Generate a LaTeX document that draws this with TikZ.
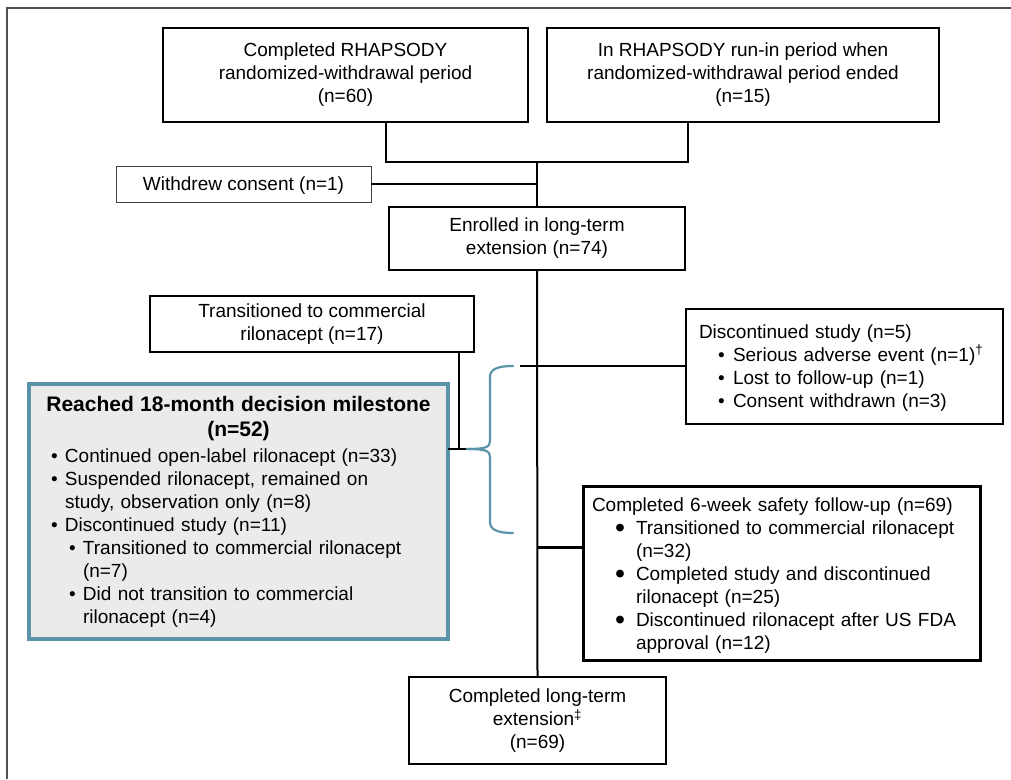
\documentclass[tikz,border=0pt]{standalone}
\usepackage{fontspec}
\setmainfont{Liberation Sans}
\definecolor{tealb}{HTML}{5B93A8}
\definecolor{fillg}{HTML}{EBEBEB}
\definecolor{framec}{HTML}{505050}
\newcommand{\bigdot}{\raisebox{-0.15em}{\scalebox{1.5}{•}}}
\begin{document}
\begin{tikzpicture}[x=1pt,y=-1pt,
  every node/.style={inner sep=0pt, outer sep=0pt},
  box/.style={draw=black, line width=1.5pt, align=center, font=\fontsize{19}{23}\selectfont,
              execute at begin node={\rule{0pt}{17.5pt}}},
  lbox/.style={draw=black, line width=1.5pt, align=left, font=\fontsize{19}{23}\selectfont},
  conn/.style={line width=2pt, draw=black},
  bracec/.style={line width=2.2pt, draw=tealb, line cap=round},
]
\useasboundingbox (0,0) rectangle (1011,779);
\draw[line width=2pt, draw=framec] (7,779) -- (7,8) -- (1011,8);

% boxes
\node[box, minimum width=365pt, minimum height=94pt, anchor=north west] (a) at (163,28)
  {Completed RHAPSODY\\randomized-withdrawal period\\(n=60)};
\node[box, minimum width=392pt, minimum height=94pt, anchor=north west] (b) at (547,28)
  {In RHAPSODY run-in period when\\randomized-withdrawal period ended\\(n=15)};
\node[box, draw=black!75, line width=1pt, minimum width=255pt, minimum height=36pt, anchor=north west] (w) at (116,166)
  {Withdrew consent (n=1)};
\node[box, minimum width=296pt, minimum height=63pt, anchor=north west] (e) at (389,207)
  {Enrolled in long-term\\extension (n=74)};
\node[box, minimum width=324pt, minimum height=56pt, anchor=north west] (t) at (150,296)
  {Transitioned to commercial\\rilonacept (n=17)};
\node[lbox, draw=tealb, line width=3.5pt, fill=fillg, text width=391pt, inner xsep=14pt,
      minimum height=255pt, anchor=north west] (r) at (29,384)
  {{\fontsize{21}{25}\selectfont\bfseries
    \makebox[\linewidth][c]{Reached 18-month decision milestone}\\
    \makebox[\linewidth][c]{(n=52)}\par}
   \vspace{3pt}
   \fontsize{19}{23}\selectfont
   \hspace*{8pt}\makebox[14pt][l]{•}Continued open-label rilonacept (n=33)\\
   \hspace*{8pt}\makebox[14pt][l]{•}Suspended rilonacept, remained on\\
   \hspace*{22pt}study, observation only (n=8)\\
   \hspace*{8pt}\makebox[14pt][l]{•}Discontinued study (n=11)\\
   \hspace*{26pt}\makebox[14pt][l]{•}Transitioned to commercial rilonacept\\
   \hspace*{40pt}(n=7)\\
   \hspace*{26pt}\makebox[14pt][l]{•}Did not transition to commercial\\
   \hspace*{40pt}rilonacept (n=4)};
\node[lbox, text width=291pt, inner xsep=13pt, minimum height=115pt, anchor=north west] (d) at (686,309)
  {\rule{0pt}{16pt}Discontinued study (n=5)\\
   \hspace*{19pt}\makebox[15pt][l]{•}Serious adverse event (n=1)\textsuperscript{†}\\
   \hspace*{19pt}\makebox[15pt][l]{•}Lost to follow-up (n=1)\\
   \hspace*{19pt}\makebox[15pt][l]{•}Consent withdrawn (n=3)};
\node[lbox, line width=3pt, text width=379pt, inner xsep=9pt, minimum height=174pt, anchor=north west] (s) at (583,486)
  {\rule{0pt}{19pt}Completed 6-week safety follow-up (n=69)\\
   \hspace*{23pt}\makebox[21pt][l]{\bigdot}Transitioned to commercial rilonacept\\
   \hspace*{44pt}(n=32)\\
   \hspace*{23pt}\makebox[21pt][l]{\bigdot}Completed study and discontinued\\
   \hspace*{44pt}rilonacept (n=25)\\
   \hspace*{23pt}\makebox[21pt][l]{\bigdot}Discontinued rilonacept after US FDA\\
   \hspace*{44pt}approval (n=12)};
\node[box, minimum width=257pt, minimum height=87pt, anchor=north west] (l) at (409,677)
  {Completed long-term\\extension\textsuperscript{‡}\\(n=69)};

% junction coordinates
\coordinate (ja) at (386,162);
\coordinate (jb) at (688,162);
\coordinate (jm) at (537,162);
\coordinate (jw) at (537,184);
\coordinate (jd) at (520,366);
\coordinate (js) at (537,547);
\coordinate (jt) at (459,449);
\coordinate (tip) at (467,449);

% connectors
\draw[conn] (a.south -| ja) -- (ja) -- (jb) -- (b.south -| jb);
\draw[conn] (jm) -- (e.north);
\draw[conn] (w.east) -- (jw);
\draw[conn] (e.south) -- (l.north);
\draw[conn] (jd) -- (d.west |- jd);
\draw[conn, line width=3pt] (js) -- (s.west |- js);
\draw[conn] (t.south -| jt) -- (jt);
\draw[conn] (r.east |- jt) -- (tip);

% brace
\draw[bracec] (513,366) .. controls (498,366) and (490,369) .. (490,377)
  -- (490,441) .. controls (490,447) and (486,449) .. (tip);
\draw[bracec] (tip) .. controls (486,449) and (490,451) .. (490,457)
  -- (490,522) .. controls (490,530) and (498,533) .. (513,533);
\end{tikzpicture}
\end{document}
